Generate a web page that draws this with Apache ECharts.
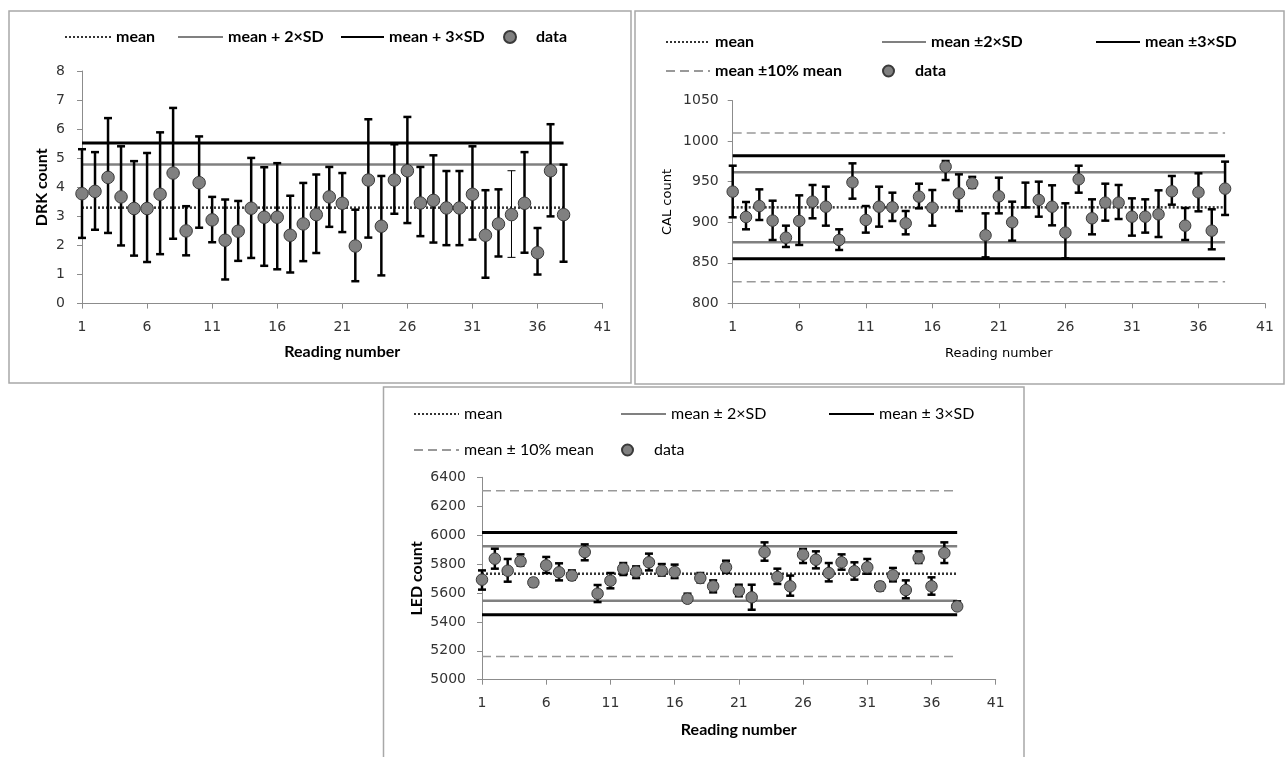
<!DOCTYPE html>
<html>
<head>
<meta charset="utf-8">
<script src="https://cdn.jsdelivr.net/npm/echarts@6/dist/echarts.min.js"></script>
<style>
html,body{margin:0;padding:0;background:#fff;}
#chart{width:1285px;height:757px;}
</style>
</head>
<body>
<div id="chart"></div>
<script>
// ---------- DATA ----------
const READINGS = [1,2,3,4,5,6,7,8,9,10,11,12,13,14,15,16,17,18,19,20,21,22,23,24,25,26,27,28,29,30,31,32,33,34,35,36,37,38];
const X_TICKS = [1,6,11,16,21,26,31,36,41];

// DRK panel
const drkCount = [3.78,3.86,4.34,3.67,3.27,3.27,3.76,4.49,2.50,4.16,2.88,2.18,2.49,3.28,2.97,2.97,2.35,2.74,3.06,3.67,3.45,1.98,4.25,2.66,4.25,4.57,3.46,3.55,3.29,3.29,3.76,2.35,2.74,3.06,3.45,1.75,4.57,3.06];
const drkHigh  = [5.31,5.21,6.38,5.41,4.90,5.18,5.89,6.73,3.35,5.75,3.67,3.58,3.53,5.01,4.69,4.83,3.71,4.15,4.44,4.70,4.49,3.23,6.34,4.39,5.48,6.42,4.70,5.10,4.56,4.56,5.41,3.90,3.93,4.57,5.21,2.60,6.17,4.78];
const drkLow   = [2.26,2.54,2.43,2.00,1.65,1.43,1.70,2.23,1.66,2.61,2.11,0.83,1.47,1.57,1.30,1.18,1.07,1.46,1.74,2.64,2.46,0.77,2.27,0.97,3.09,2.77,2.32,2.10,2.01,2.01,2.20,0.89,1.62,1.59,1.75,1.00,3.00,1.44];
const drkMean = 3.30, drk2SD = 4.78, drk3SD = 5.52;

// CAL panel
const calCount = [937.8,906.5,920.0,902.0,881.0,901.6,925.4,919.2,878.1,949.3,902.8,919.2,918.4,898.7,931.6,918.0,968.6,935.7,948.0,883.9,932.0,900.0,null,927.5,919.2,887.2,953.0,904.9,924.2,924.2,906.9,906.9,909.8,938.2,895.8,937.0,889.6,941.5];
const calHigh  = [969.8,925.0,940.6,926.6,895.8,933.2,946.0,943.9,891.3,972.7,920.0,943.9,936.5,913.9,947.6,939.8,975.6,959.1,956.0,911.0,955.0,925.4,948.9,950.1,945.6,923.4,969.8,928.3,947.6,946.0,929.5,928.3,939.4,957.1,917.6,960.4,916.0,974.8];
const calLow   = [906.1,891.3,902.8,878.1,869.5,872.0,904.9,895.8,865.8,929.1,887.2,894.6,901.6,885.1,917.2,895.8,952.1,913.9,942.4,856.7,911.0,877.3,918.4,906.9,896.2,855.5,936.5,885.1,902.0,904.0,883.5,887.2,881.8,921.7,878.1,913.5,866.6,909.0];
const calMean = 918.4, cal2SDHi = 961.6, cal2SDLo = 875.3, cal3SDHi = 982.2, cal3SDLo = 855.1, cal10Hi = 1010.2, cal10Lo = 826.6;

// LED panel
const ledCount = [5692,5837,5754,5819,5673,5791,5743,5720,5883,5595,5685,5768,5747,5812,5754,5745,5560,5703,5646,5777,5614,5570,5883,5710,5646,5865,5830,5738,5812,5750,5777,5646,5722,5620,5842,5646,5876,5507];
const ledHigh  = [5756,5906,5835,5867,5697,5849,5805,5756,5936,5655,5738,5807,5784,5872,5800,5796,5595,5738,5687,5823,5657,5657,5950,5768,5720,5904,5888,5807,5867,5812,5835,5673,5773,5687,5888,5708,5950,5542];
const ledLow   = [5623,5768,5678,5789,5646,5738,5687,5692,5826,5537,5632,5724,5703,5756,5720,5703,5537,5673,5604,5738,5577,5484,5823,5662,5581,5807,5770,5680,5761,5692,5733,5618,5680,5563,5807,5588,5807,5484];
const ledMean = 5733, led2SDHi = 5923, led2SDLo = 5546, led3SDHi = 6019, led3SDLo = 5450, led10Hi = 6307, led10Lo = 5160;

// ---------- STYLES ----------
const THIN_ERR = {0: [34]}; // panel index -> readings drawn with a thin error bar
const TICK_FONT = {fontFamily:'DejaVu Sans', fontSize:14, color:'#333'};
const MEAN_STYLE = {color:'#333', width:2.5, type:[2,2], cap:'butt'};
const SD2_STYLE = {color:'#808080', width:2.5};
const SD3_STYLE = {color:'#000', width:3};
const PCT_STYLE = {color:'#999', width:1.5, type:[9,5]};

const first = READINGS[0], last = READINGS[READINGS.length-1];
function hline(name, g, v, ls){
  return {type:'line', name:name, xAxisIndex:g, yAxisIndex:g, data:[[first,v],[last,v]],
    symbol:'none', silent:true, z:2, lineStyle:ls, itemStyle:{color:ls.color, opacity:0}, animation:false};
}
function errSeries(g, lo, hi, capW, lw){
  const thin = THIN_ERR[g] || [];
  return {type:'custom', xAxisIndex:g, yAxisIndex:g, z:3, silent:true, animation:false, clip:false,
    encode:{x:0, y:[1,2]},
    data: READINGS.map((r,i)=>[r, lo[i], hi[i]]),
    renderItem:function(params, api){
      const x = api.value(0);
      const a = api.coord([x, api.value(1)]), b = api.coord([x, api.value(2)]);
      const w = thin.indexOf(x) >= 0 ? 1 : lw;
      const st = {stroke:'#000', lineWidth:w};
      return {type:'group', children:[
        {type:'line', shape:{x1:a[0],y1:a[1],x2:b[0],y2:b[1]}, style:st},
        {type:'line', shape:{x1:a[0]-capW,y1:a[1],x2:a[0]+capW,y2:a[1]}, style:st},
        {type:'line', shape:{x1:b[0]-capW,y1:b[1],x2:b[0]+capW,y2:b[1]}, style:st}
      ]};
    }};
}
function dataSeries(g, vals, size){
  return {type:'scatter', name:'data', xAxisIndex:g, yAxisIndex:g, z:4, clip:false, animation:false,
    symbol:'circle', symbolSize:size,
    itemStyle:{color:'#808080', borderColor:'#3a3a3a', borderWidth:1, opacity:1},
    data: READINGS.map((r,i)=>[r, vals[i] === null ? '-' : vals[i]])};
}
function legend(name, left, cy, w, ih, font, isLine){
  const lg = {show:true, data:[name], left:left, top:cy-10, padding:0, itemWidth:w, itemHeight:ih,
    selectedMode:false, textStyle:Object.assign({lineHeight:20, color:'#000', padding:[0,0,0,0]}, font)};
  if (isLine) lg.itemStyle = {opacity:0, borderWidth:0};
  return lg;
}

const LB = {fontFamily:'Lato', fontSize:16, fontWeight:'bold'};
const LR = {fontFamily:'Lato', fontSize:16, fontWeight:'normal'};

const grids = [
  {left:82, top:71, width:520.6, height:232.6},
  {left:732.7, top:100.7, width:532.3, height:202.6},
  {left:482, top:477.3, width:513.7, height:202.4}
];
function xAx(g, nameFont, gap){
  return {type:'value', gridIndex:g, min:1, max:41,
    name:'Reading number', nameLocation:'middle', nameGap:gap,
    nameTextStyle:Object.assign({color:'#000', lineHeight:20}, nameFont),
    axisLine:{show:true, lineStyle:{color:'#8c8c8c', width:1}},
    axisTick:{show:true, length:5, customValues:X_TICKS, lineStyle:{color:'#8c8c8c'}},
    axisLabel:Object.assign({margin:17, customValues:X_TICKS, formatter:v=>String(v)}, TICK_FONT),
    splitLine:{show:false}};
}
function yAx(g, name, min, max, itv, nameFont, gap, margin){
  return {type:'value', gridIndex:g, min:min, max:max, interval:itv,
    name:name, nameLocation:'middle', nameGap:gap,
    nameTextStyle:Object.assign({color:'#000', lineHeight:20}, nameFont),
    axisLine:{show:true, lineStyle:{color:'#8c8c8c', width:1}},
    axisTick:{show:true, length:5, lineStyle:{color:'#8c8c8c'}},
    axisLabel:Object.assign({margin:margin, formatter:v=>String(v)}, TICK_FONT),
    splitLine:{show:false}};
}

const DJ = {fontFamily:'DejaVu Sans', fontSize:13, fontWeight:'normal'};

const option = {
  backgroundColor:'#fff',
  animation:false,
  grid: grids,
  xAxis:[xAx(0, LB, 38), xAx(1, DJ, 40), xAx(2, LB, 40)],
  yAxis:[
    yAx(0, 'DRK count', 0, 8, 1, LB, 28, 17),
    yAx(1, 'CAL count', 800, 1050, 50, DJ, 55, 14),
    yAx(2, 'LED count', 5000, 6400, 200, LB, 55, 16)
  ],
  legend:[
    legend('mean', 64, 37, 46, 14, LB, true),
    legend('mean + 2×SD', 177, 37, 45, 14, LB, true),
    legend('mean + 3×SD', 340, 37, 43, 14, LB, true),
    legend('data', 503, 37, 42, 12, LB, false),

    legend('mean', 665, 42, 44, 14, LB, true),
    legend('mean ±2×SD', 881, 42, 44, 14, LB, true),
    legend('mean ±3×SD', 1095, 42, 44, 14, LB, true),
    legend('mean ±10% mean', 665, 71, 44, 14, LB, true),
    legend('data', 882, 71, 43, 11, LB, false),

    legend('mean', 413, 414, 45, 14, LR, true),
    legend('mean ± 2×SD', 620, 414, 45, 14, LR, true),
    legend('mean ± 3×SD', 828, 414, 45, 14, LR, true),
    legend('mean ± 10% mean', 413, 450, 45, 14, LR, true),
    legend('data', 621, 450, 43, 11, LR, false)
  ],
  graphic:[
    {type:'rect', shape:{x:9, y:11, width:622, height:372}, style:{fill:null, stroke:'#a8a8a8', lineWidth:1.5}, z:-1, silent:true},
    {type:'rect', shape:{x:635, y:11, width:649, height:373}, style:{fill:null, stroke:'#a8a8a8', lineWidth:1.5}, z:-1, silent:true},
    {type:'rect', shape:{x:383.5, y:387, width:640.5, height:380}, style:{fill:'#fff', stroke:'#a8a8a8', lineWidth:1.5}, z:-1, silent:true}
  ],
  series:[
    hline('mean', 0, drkMean, MEAN_STYLE),
    hline('mean + 2×SD', 0, drk2SD, SD2_STYLE),
    hline('mean + 3×SD', 0, drk3SD, SD3_STYLE),
    errSeries(0, drkLow, drkHigh, 4, 2.5),
    dataSeries(0, drkCount, 12.5),

    hline('mean', 1, calMean, MEAN_STYLE),
    hline('mean ±2×SD', 1, cal2SDHi, SD2_STYLE),
    hline('mean ±2×SD', 1, cal2SDLo, SD2_STYLE),
    hline('mean ±3×SD', 1, cal3SDHi, SD3_STYLE),
    hline('mean ±3×SD', 1, cal3SDLo, SD3_STYLE),
    hline('mean ±10% mean', 1, cal10Hi, PCT_STYLE),
    hline('mean ±10% mean', 1, cal10Lo, PCT_STYLE),
    errSeries(1, calLow, calHigh, 4, 2.5),
    dataSeries(1, calCount, 11.5),

    hline('mean', 2, ledMean, MEAN_STYLE),
    hline('mean ± 2×SD', 2, led2SDHi, SD2_STYLE),
    hline('mean ± 2×SD', 2, led2SDLo, SD2_STYLE),
    hline('mean ± 3×SD', 2, led3SDHi, SD3_STYLE),
    hline('mean ± 3×SD', 2, led3SDLo, SD3_STYLE),
    hline('mean ± 10% mean', 2, led10Hi, PCT_STYLE),
    hline('mean ± 10% mean', 2, led10Lo, PCT_STYLE),
    errSeries(2, ledLow, ledHigh, 4, 2.5),
    dataSeries(2, ledCount, 11.5)
  ]
};
const chart = echarts.init(document.getElementById('chart'), null, {renderer:'canvas'});
chart.setOption(option);
</script>
</body>
</html>
